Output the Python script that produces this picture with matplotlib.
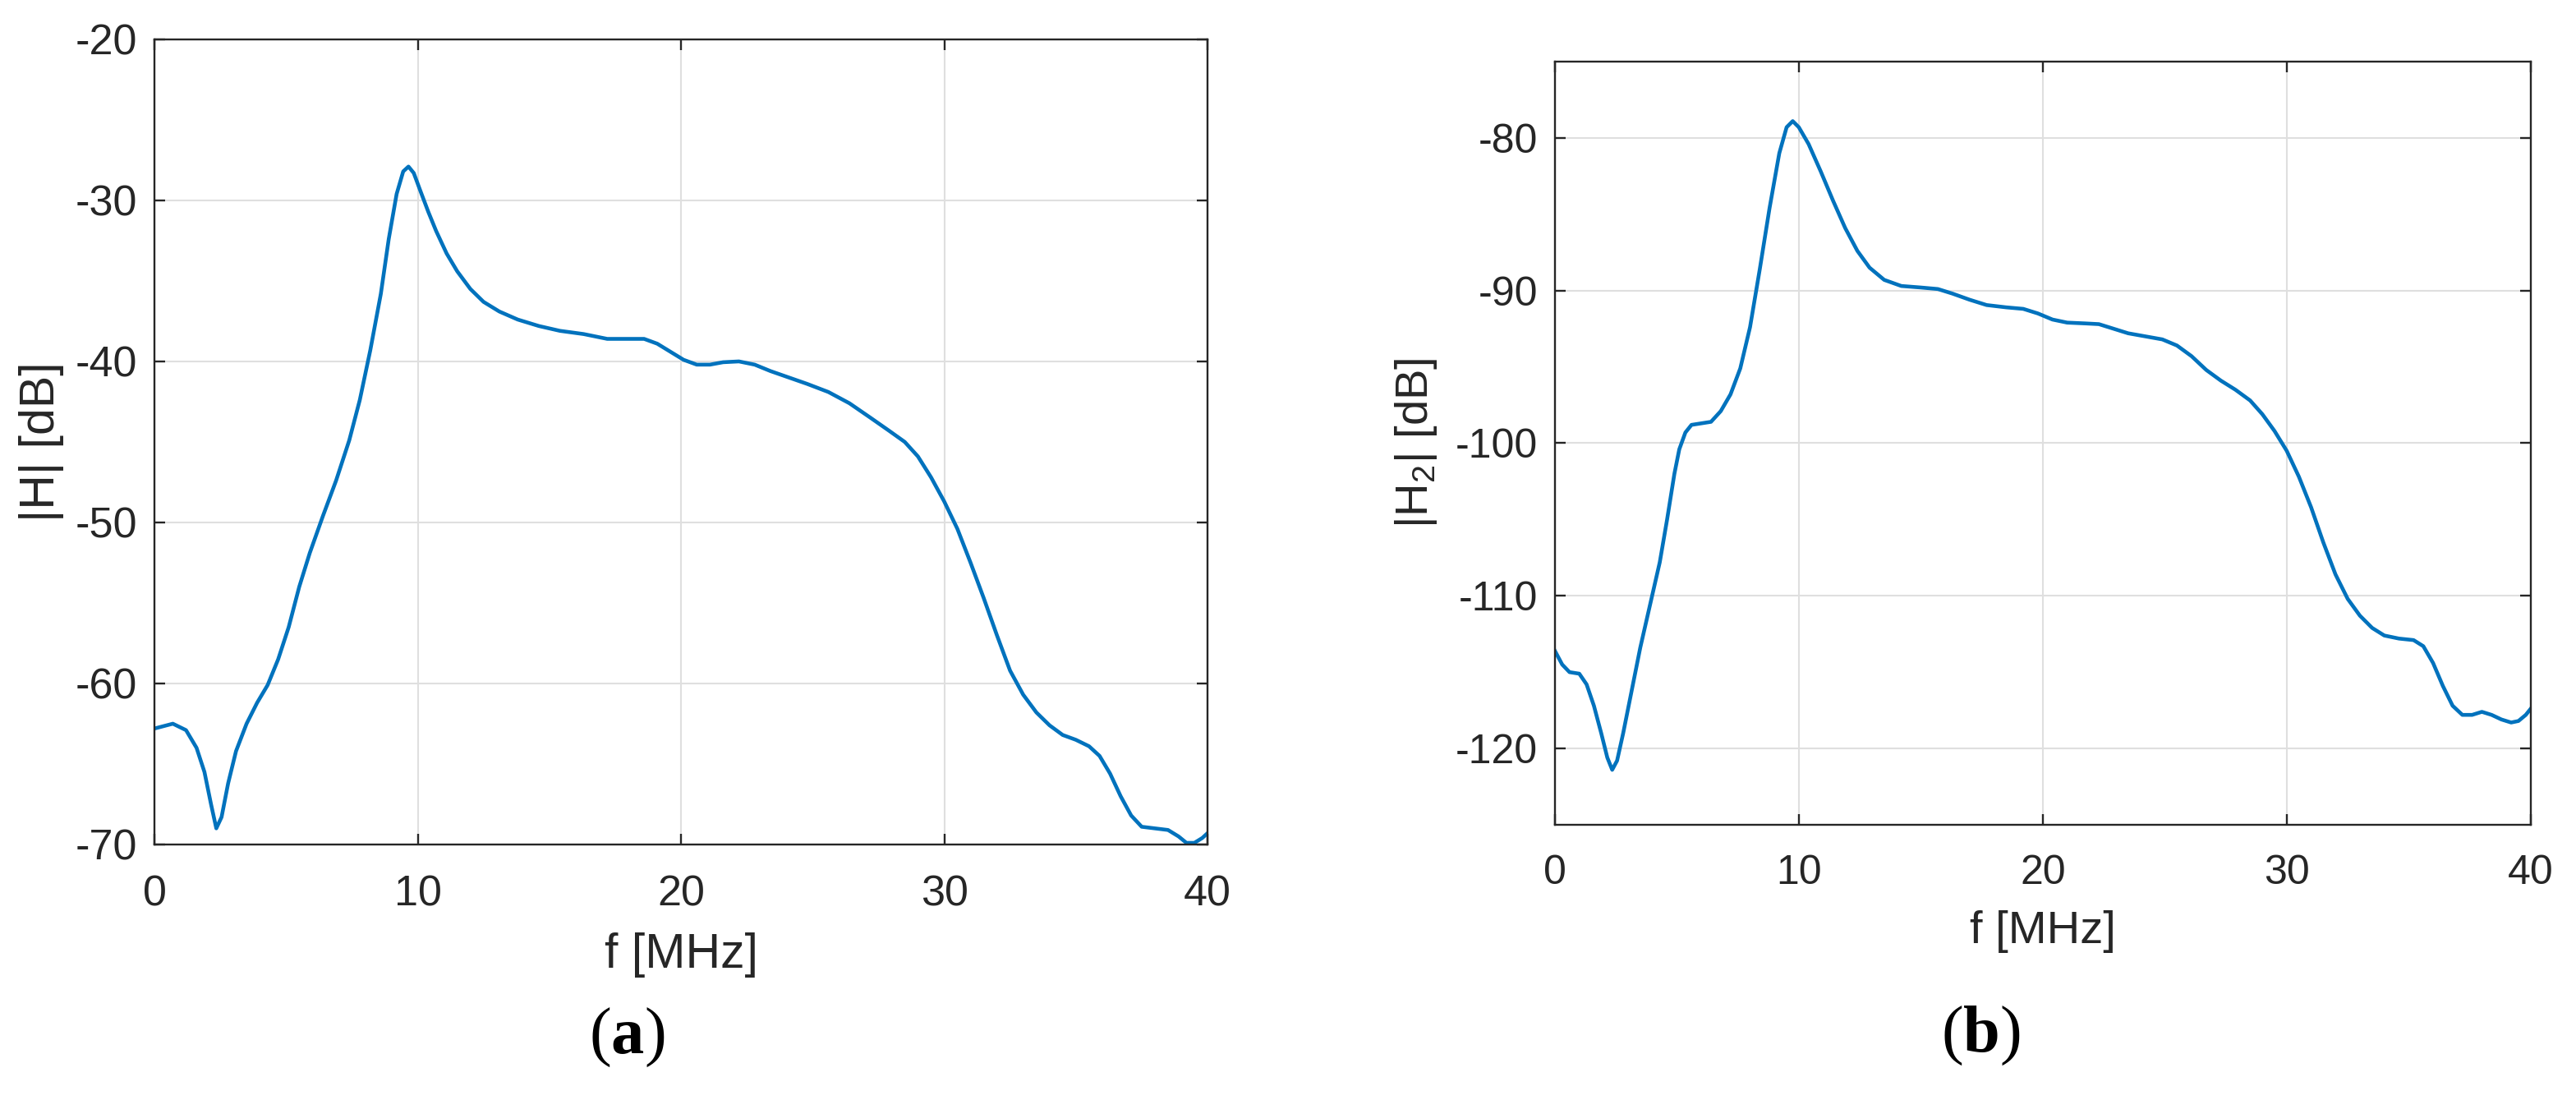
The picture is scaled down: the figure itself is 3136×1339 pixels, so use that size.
import matplotlib
matplotlib.use("Agg")
import matplotlib.pyplot as plt

# (a) |H| vs frequency
f_a = [0.0, 0.7, 1.2, 1.6, 1.9, 2.15, 2.35, 2.55, 2.8, 3.1, 3.5, 3.9, 4.3, 4.7, 5.1,
       5.5, 5.9, 6.4, 6.9, 7.4, 7.8, 8.2, 8.6, 8.9, 9.2, 9.45, 9.65, 9.85, 10.1, 10.4,
       10.7, 11.1, 11.5, 12.0, 12.5, 13.1, 13.8, 14.6, 15.4, 16.3, 17.2, 18.0, 18.6,
       19.1, 19.6, 20.1, 20.6, 21.1, 21.6, 22.2, 22.8, 23.4, 24.1, 24.8, 25.6, 26.4,
       27.2, 27.9, 28.5, 29.0, 29.5, 30.0, 30.5, 31.0, 31.5, 32.0, 32.5, 33.0, 33.5,
       34.0, 34.5, 35.0, 35.5, 35.9, 36.3, 36.7, 37.1, 37.5, 38.0, 38.5, 38.9, 39.2,
       39.5, 39.8, 40.0]
H_a = [-62.8, -62.5, -62.9, -64.0, -65.5, -67.5, -69.0, -68.3, -66.2, -64.2, -62.5,
       -61.2, -60.1, -58.5, -56.5, -54.0, -51.9, -49.6, -47.4, -44.9, -42.4, -39.3,
       -35.8, -32.4, -29.6, -28.2, -27.9, -28.3, -29.4, -30.7, -31.9, -33.3, -34.4,
       -35.5, -36.3, -36.9, -37.4, -37.8, -38.1, -38.3, -38.6, -38.6, -38.6, -38.9,
       -39.4, -39.9, -40.2, -40.2, -40.05, -40.0, -40.2, -40.6, -41.0, -41.4, -41.9,
       -42.6, -43.5, -44.3, -45.0, -45.9, -47.2, -48.7, -50.4, -52.5, -54.7, -57.0,
       -59.2, -60.7, -61.8, -62.6, -63.2, -63.5, -63.9, -64.5, -65.6, -67.0, -68.2,
       -68.9, -69.0, -69.1, -69.5, -69.9, -69.9, -69.6, -69.3]

# (b) |H2| vs frequency
f_b = [0.0, 0.3, 0.6, 1.0, 1.3, 1.6, 1.9, 2.15, 2.35, 2.55, 2.8, 3.1, 3.5, 3.9, 4.3,
       4.6, 4.9, 5.1, 5.35, 5.6, 6.0, 6.4, 6.8, 7.2, 7.6, 8.0, 8.4, 8.8, 9.2, 9.5,
       9.75, 10.0, 10.4, 10.9, 11.4, 11.9, 12.4, 12.9, 13.5, 14.2, 15.0, 15.7, 16.3,
       17.0, 17.7, 18.5, 19.2, 19.8, 20.4, 21.0, 21.7, 22.3, 22.9, 23.5, 24.2, 24.9,
       25.5, 26.1, 26.7, 27.3, 27.9, 28.5, 29.0, 29.5, 30.0, 30.5, 31.0, 31.5, 32.0,
       32.5, 33.0, 33.5, 34.0, 34.6, 35.2, 35.6, 36.0, 36.4, 36.8, 37.2, 37.6, 38.0,
       38.4, 38.8, 39.2, 39.5, 39.8, 40.0]
H_b = [-113.6, -114.5, -115.0, -115.1, -115.8, -117.2, -119.0, -120.6, -121.4, -120.8,
       -119.0, -116.6, -113.4, -110.6, -107.8, -105.0, -102.0, -100.4, -99.3, -98.8,
       -98.7, -98.6, -97.9, -96.8, -95.1, -92.4, -88.6, -84.6, -81.0, -79.3, -78.9,
       -79.3, -80.4, -82.2, -84.1, -85.9, -87.4, -88.5, -89.3, -89.7, -89.8, -89.9,
       -90.2, -90.6, -90.95, -91.1, -91.2, -91.5, -91.9, -92.1, -92.15, -92.2, -92.5,
       -92.8, -93.0, -93.2, -93.6, -94.3, -95.2, -95.9, -96.5, -97.2, -98.1, -99.2,
       -100.5, -102.2, -104.2, -106.5, -108.6, -110.2, -111.3, -112.1, -112.6, -112.8,
       -112.9, -113.3, -114.4, -115.9, -117.2, -117.8, -117.8, -117.6, -117.8, -118.1,
       -118.3, -118.2, -117.8, -117.4]

x_ticks = [0, 10, 20, 30, 40]
y_ticks_a = [-70, -60, -50, -40, -30, -20]
y_ticks_b = [-120, -110, -100, -90, -80]

plt.rcParams['font.family'] = ['Liberation Sans', 'DejaVu Sans']
plt.rcParams['axes.unicode_minus'] = False
plt.rcParams['mathtext.fontset'] = 'custom'
plt.rcParams['mathtext.rm'] = 'Liberation Serif'
plt.rcParams['mathtext.bf'] = 'Liberation Serif:bold'
txt = '#262626'

fig = plt.figure(figsize=(31.36, 13.39), dpi=100)

def style_axes(ax, yticks, ylim, tsize):
    ax.set_xlim(0, 40)
    ax.set_ylim(*ylim)
    ax.set_xticks(x_ticks)
    ax.set_yticks(yticks)
    ax.grid(True, color='#dfdfdf', linewidth=1.5)
    ax.set_axisbelow(True)
    ax.tick_params(direction='in', length=9.5, width=1.7, colors=txt, labelsize=tsize,
                   top=True, right=True)
    ax.tick_params(axis='x', pad=26)
    ax.tick_params(axis='y', pad=15)
    for s in ax.spines.values():
        s.set_linewidth(1.7)
        s.set_color(txt)

ax1 = fig.add_axes([0.05995, 0.2323, 0.4088, 0.7319])
ax1.plot(f_a, H_a, color='#0072BD', linewidth=3.3)
style_axes(ax1, y_ticks_a, (-70, -20), 37.5)
ax1.set_xlabel('f [MHz]', fontsize=42.5, color=txt, labelpad=16)
ax1.set_ylabel('|H| [dB]', fontsize=42.5, color=txt, labelpad=10)

ax2 = fig.add_axes([0.6036, 0.2502, 0.3788, 0.6938])
ax2.plot(f_b, H_b, color='#0072BD', linewidth=3.3)
style_axes(ax2, y_ticks_b, (-125, -75), 36)
ax2.set_xlabel('f [MHz]', fontsize=40.5, color=txt, labelpad=16)
ax2.set_ylabel(r'|H$_\mathregular{2}$| [dB]', fontsize=40.5, color=txt, labelpad=14)

fig.text(0.2433, 0.0568, r'($\mathbf{a}$)', fontsize=58, family='Liberation Serif',
         ha='center', va='center', color='black')
fig.text(0.7688, 0.0583, r'($\mathbf{b}$)', fontsize=58, family='Liberation Serif',
         ha='center', va='center', color='black')

fig.savefig('out.png', dpi=100)
